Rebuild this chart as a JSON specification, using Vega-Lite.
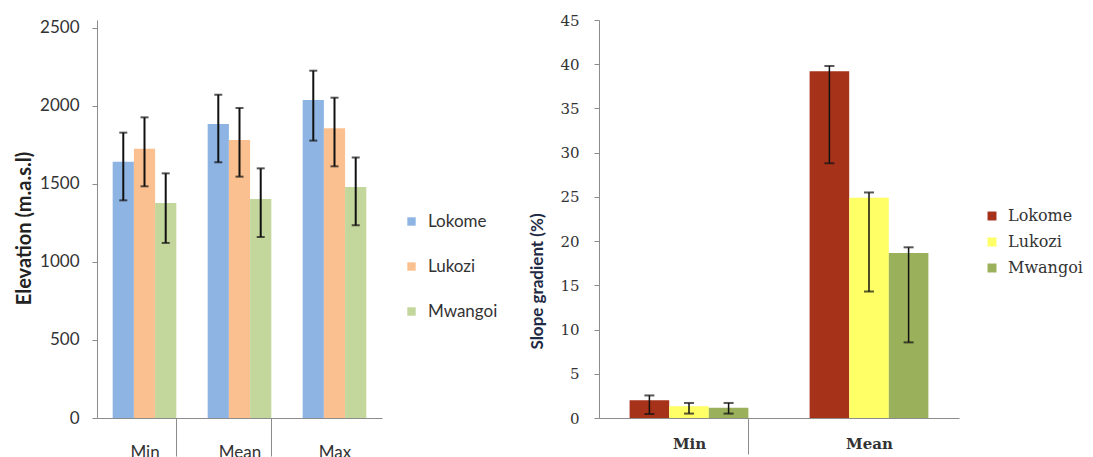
{
  "$schema": "https://vega.github.io/schema/vega-lite/v6.json",
  "background": "white",
  "padding": {"left": 14, "top": 13, "right": 5, "bottom": 0},
  "spacing": 30,
  "config": {"view": {"stroke": null}, "axis": {"grid": false, "domainColor": "#8c8c8c", "tickColor": "#8c8c8c"}},
  "resolve": {"scale": {"color": "independent", "x": "independent", "xOffset": "independent", "y": "independent"}, "legend": {"color": "independent"}},
  "datasets": {
    "elev": [
      {"cat": "Min", "site": "Lokome", "v": 1643, "lo": 1395, "hi": 1829},
      {"cat": "Min", "site": "Lukozi", "v": 1726, "lo": 1485, "hi": 1927},
      {"cat": "Min", "site": "Mwangoi", "v": 1378, "lo": 1122, "hi": 1568},
      {"cat": "Mean", "site": "Lokome", "v": 1885, "lo": 1639, "hi": 2072},
      {"cat": "Mean", "site": "Lukozi", "v": 1782, "lo": 1547, "hi": 1987},
      {"cat": "Mean", "site": "Mwangoi", "v": 1404, "lo": 1160, "hi": 1600},
      {"cat": "Max", "site": "Lokome", "v": 2038, "lo": 1778, "hi": 2226},
      {"cat": "Max", "site": "Lukozi", "v": 1857, "lo": 1613, "hi": 2053},
      {"cat": "Max", "site": "Mwangoi", "v": 1480, "lo": 1235, "hi": 1670}
    ],
    "slope": [
      {"cat": "Min", "site": "Lokome", "v": 2.0, "lo": 0.45, "hi": 2.55},
      {"cat": "Min", "site": "Lukozi", "v": 1.32, "lo": 0.5, "hi": 1.7},
      {"cat": "Min", "site": "Mwangoi", "v": 1.16, "lo": 0.5, "hi": 1.7},
      {"cat": "Mean", "site": "Lokome", "v": 39.2, "lo": 28.8, "hi": 39.8},
      {"cat": "Mean", "site": "Lukozi", "v": 24.9, "lo": 14.3, "hi": 25.5},
      {"cat": "Mean", "site": "Mwangoi", "v": 18.65, "lo": 8.55, "hi": 19.3}
    ]
  },
  "hconcat": [
    {
      "width": 285,
      "height": 398,
      "data": {"name": "elev"},
      "encoding": {
        "x": {"field": "cat", "type": "nominal", "sort": ["Min", "Mean", "Max"],
          "scale": {"paddingInner": 0.33, "paddingOuter": 0.165},
          "axis": {"title": null, "labelAngle": 0, "tickBand": "extent", "tickSize": 38, "labelPadding": -12,
            "labelFont": "Lato", "labelFontSize": 17, "labelColor": "#333",
            "tickOpacity": {"condition": {"test": "datum.value === 'Min' || datum.value === 'Mean'", "value": 1}, "value": 0}}},
        "xOffset": {"field": "site", "type": "nominal", "sort": ["Lokome", "Lukozi", "Mwangoi"]}
      },
      "layer": [
        {
          "mark": {"type": "bar"},
          "encoding": {
            "y": {"field": "v", "type": "quantitative", "title": "Elevation  (m.a.s.l)",
              "scale": {"domain": [0, 2551], "nice": false},
              "axis": {"values": [0, 500, 1000, 1500, 2000, 2500], "format": "d", "tickSize": 5, "labelPadding": 13,
                "labelFont": "Lato", "labelFontSize": 17, "labelColor": "#333",
                "titleFont": "Lato", "titleFontSize": 20, "titleFontWeight": "bold", "titleColor": "#222",
                "titleX": -73, "titleY": 208, "titleBaseline": "middle", "titleAlign": "center", "titleAngle": -90}},
            "color": {"field": "site", "type": "nominal",
              "scale": {"domain": ["Lokome", "Lukozi", "Mwangoi"], "range": ["#8EB4E3", "#FAC08F", "#C3D69B"]},
              "legend": {"title": null, "orient": "none", "legendX": 306, "legendY": 193,
                "symbolType": "square", "symbolSize": 70, "symbolStrokeWidth": 0,
                "labelFont": "Lato", "labelFontSize": 17, "labelColor": "#333", "rowPadding": 27, "labelOffset": 8}}
          }
        },
        {
          "mark": {"type": "rule", "color": "#111", "strokeWidth": 2},
          "encoding": {"y": {"field": "lo", "type": "quantitative", "title": "Elevation  (m.a.s.l)"}, "y2": {"field": "hi"}}
        },
        {
          "mark": {"type": "tick", "color": "#111", "thickness": 2, "size": 8},
          "encoding": {"y": {"field": "lo", "type": "quantitative", "title": "Elevation  (m.a.s.l)"}}
        },
        {
          "mark": {"type": "tick", "color": "#111", "thickness": 2, "size": 8},
          "encoding": {"y": {"field": "hi", "type": "quantitative", "title": "Elevation  (m.a.s.l)"}}
        }
      ]
    },
    {
      "width": 360,
      "height": 398,
      "data": {"name": "slope"},
      "encoding": {
        "x": {"field": "cat", "type": "nominal", "sort": ["Min", "Mean"],
          "scale": {"paddingInner": 0.34, "paddingOuter": 0.17},
          "axis": {"title": null, "labelAngle": 0, "tickBand": "extent", "tickSize": 36, "labelPadding": -18,
            "labelFont": "DejaVu Serif", "labelFontSize": 15, "labelFontWeight": "bold", "labelColor": "#333",
            "tickOpacity": {"condition": {"test": "datum.value === 'Min'", "value": 1}, "value": 0}}},
        "xOffset": {"field": "site", "type": "nominal", "sort": ["Lokome", "Lukozi", "Mwangoi"]}
      },
      "layer": [
        {
          "mark": {"type": "bar"},
          "encoding": {
            "y": {"field": "v", "type": "quantitative", "title": "Slope gradient (%)",
              "scale": {"domain": [0, 45], "nice": false},
              "axis": {"values": [0, 5, 10, 15, 20, 25, 30, 35, 40, 45], "tickSize": 5, "labelPadding": 15,
                "labelFont": "DejaVu Serif", "labelFontSize": 15, "labelColor": "#333",
                "titleFont": "Lato", "titleFontSize": 17, "titleFontWeight": "bold", "titleColor": "#1f2a44",
                "titleX": -62, "titleY": 261, "titleBaseline": "middle", "titleAlign": "center", "titleAngle": -90}},
            "color": {"field": "site", "type": "nominal",
              "scale": {"domain": ["Lokome", "Lukozi", "Mwangoi"], "range": ["#A6321A", "#FFFF66", "#9BB05A"]},
              "legend": {"title": null, "orient": "none", "legendX": 385, "legendY": 188,
                "symbolType": "square", "symbolSize": 80, "symbolStrokeWidth": 0,
                "labelFont": "DejaVu Serif", "labelFontSize": 16, "labelColor": "#333", "rowPadding": 10, "labelOffset": 8}}
          }
        },
        {
          "mark": {"type": "rule", "color": "#111", "strokeWidth": 1.5},
          "encoding": {"y": {"field": "lo", "type": "quantitative", "title": "Slope gradient (%)"}, "y2": {"field": "hi"}}
        },
        {
          "mark": {"type": "tick", "color": "#111", "thickness": 2, "size": 10},
          "encoding": {"y": {"field": "lo", "type": "quantitative", "title": "Slope gradient (%)"}}
        },
        {
          "mark": {"type": "tick", "color": "#111", "thickness": 2, "size": 10},
          "encoding": {"y": {"field": "hi", "type": "quantitative", "title": "Slope gradient (%)"}}
        }
      ]
    }
  ]
}
